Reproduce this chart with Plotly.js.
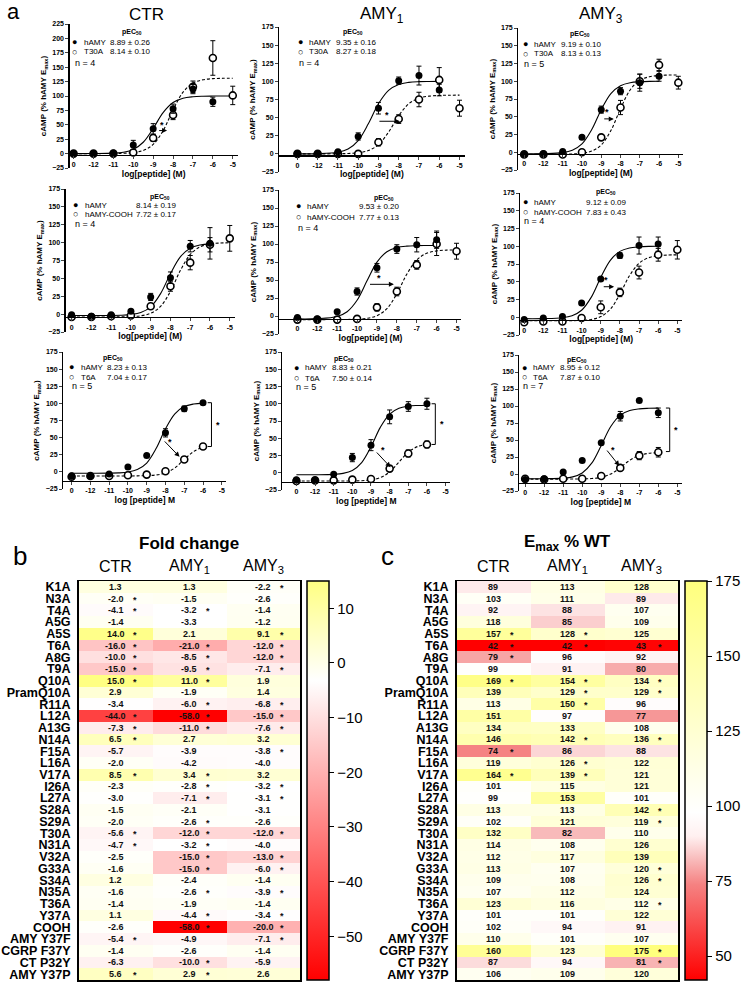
<!DOCTYPE html>
<html><head><meta charset="utf-8">
<script src="https://cdn.plot.ly/plotly-3.0.1.min.js"></script>
<style>html,body{margin:0;padding:0;background:#fff}</style>
</head><body><div id="chart" style="width:742px;height:982px"></div>
<script>
// ---------- Dose-response data (panel a) ----------
const logConc = [-13,-12,-11,-10,-9,-8,-7,-6,-5];
const concTickText = ['0','-12','-11','-10','-9','-8','-7','-6','-5'];
const curveX = [-13,-12,-11,-10.5,-10,-9.5,-9,-8.5,-8,-7.5,-7,-6.5,-6,-5.5,-5];
const receptors = ['CTR','AMY<sub>1</sub>','AMY<sub>3</sub>'];
const wtName = 'hAMY';
const mutantNames = ['T30A','hAMY-COOH','T6A'];

// row 1: T30A
const ctrT30A_wt = [0,0,1,15,43,78,112,90,null];
const ctrT30A_wtErr = [0,0,0,8,9,8,8,8,null];
const ctrT30A_mut = [0,0,0,2,27,67,116,166,101];
const ctrT30A_mutErr = [0,0,0,0,6,8,10,30,16];
const ctrT30A_wtFit = [0,0.1,0.8,2.4,7.2,19.7,43.7,71.1,88.6,96.1,98.7,99.6,99.9,100,100];
const ctrT30A_mutFit = [0,0,0.2,0.6,1.8,5.5,15.9,39.8,76,106.6,122.2,128.1,130.1,130.7,130.9];

const amy1T30A_wt = [0,0,3,24,63,101,108,88,null];
const amy1T30A_wtErr = [0,0,0,5,8,5,13,8,null];
const amy1T30A_mut = [0,0,0,0,16,48,75,102,63];
const amy1T30A_mutErr = [0,0,0,0,5,6,10,17,11];
const amy1T30A_wtFit = [0,0.2,2.2,6.6,18.3,41.5,69.1,87.6,95.7,98.6,99.6,99.9,100,null,null];
const amy1T30A_mutFit = [0,0,0.2,0.5,1.5,4.5,12.7,30,52.7,69.2,76.9,79.6,80.6,80.9,81];

const amy3T30A_wt = [-3,-2,1,21,60,86,98,107,null];
const amy3T30A_wtErr = [0,0,0,2,5,5,12,7,null];
const amy3T30A_mut = [-3,-3,-3,0,21,63,100,123,98];
const amy3T30A_mutErr = [0,0,0,0,3,10,10,8,9];
const amy3T30A_wtFit = [-2,-1.8,-0.5,2.8,11.7,31.6,60,82.7,93.8,98,99.3,99.8,99.9,null,null];
const amy3T30A_mutFit = [-3,-3,-2.9,-2.5,-1.5,1.6,10.3,30.5,61.3,87.7,101.3,106.4,108.2,108.7,108.9];

// row 2: hAMY-COOH
const ctrCOOH_wt = [-1,-3,-1,4,24,51,95,99,null];
const ctrCOOH_wtErr = [0,0,0,2,5,8,8,22,null];
const ctrCOOH_mut = [-4,-4,-3,-2,11,39,72,97,106];
const ctrCOOH_mutErr = [0,0,0,0,4,7,10,10,18];
const ctrCOOH_wtFit = [-2,-2,-1.9,-1.6,-0.6,2.2,10.2,28.7,56.6,80.2,92.2,96.7,98.3,null,null];
const ctrCOOH_mutFit = [-4,-4,-4,-3.8,-3.5,-2.3,1.2,10.8,31.8,60.9,83.4,94.1,98.1,99.4,99.8];

const amy1COOH_wt = [-2,-4,6,34,67,93,99,106,null];
const amy1COOH_wtErr = [0,0,2,5,6,6,10,12,null];
const amy1COOH_mut = [-5,-5,-5,-4,12,34,71,100,90];
const amy1COOH_mutErr = [0,0,0,0,5,6,6,16,11];
const amy1COOH_wtFit = [-4,-3.7,-0.7,5.9,21.8,48.8,74.8,89.3,95.1,97.1,97.7,97.9,98,null,null];
const amy1COOH_mutFit = [-5,-5,-4.9,-4.8,-4.4,-3.2,0.4,10.2,30.9,58.1,77.9,87.1,90.4,91.5,91.8];

const amy3COOH_wt = [-3,-1,1,20,54,87,101,103,null];
const amy3COOH_wtErr = [0,0,0,2,2,4,12,10,null];
const amy3COOH_mut = [-7,-6,-6,-1,14,35,63,88,95];
const amy3COOH_mutErr = [0,0,0,0,9,6,9,9,13];
const amy3COOH_wtFit = [-2,-1.9,-0.7,2.1,9.9,28,56,80.2,92.8,97.6,99.2,99.8,99.9,null,null];
const amy3COOH_mutFit = [-5,-5,-4.9,-4.8,-4.4,-3.1,0.9,11.4,32.5,58.4,76,83.8,86.6,87.6,87.9];

// row 3: T6A
const ctrT6A_wt = [-6,-6,-3,7,24,57,92,101,null];
const ctrT6A_wtErr = [0,0,0,2,2,6,4,2,null];
const ctrT6A_mut = [-7,-6,-6,-5,-4,1,18,37,null];
const ctrT6A_mutErr = [0,0,0,0,0,2,4,4,null];
const ctrT6A_wtFit = [-2,-2,-1.8,-1.5,-0.3,3.3,12.9,34,62.8,84.8,95.3,99.1,100.4,null,null];
const ctrT6A_mutFit = [-6,-6,-6,-6,-6,-5.8,-5.5,-4.5,-1.5,5.8,18.1,29.7,36.1,null,null];

const amy1T6A_wt = [-10,-11,-2,22,40,81,96,100,null];
const amy1T6A_wtErr = [0,0,0,6,8,10,7,8,null];
const amy1T6A_mut = [-12,-11,-11,-10,-9,6,28,41,null];
const amy1T6A_mutErr = [0,0,0,0,0,2,5,5,null];
const amy1T6A_wtFit = [-3,-2.9,-2.3,-0.9,3.4,14.8,37.7,65.8,85,93.5,96.5,97.5,97.9,null,null];
const amy1T6A_mutFit = [-12,-12,-12,-12,-11.8,-11.5,-10.3,-7,1.2,15.5,29.8,38,41.3,null,null];

const amy3T6A_wt = [-8,-7,3,20,46,85,108,90,null];
const amy3T6A_wtErr = [0,0,0,0,0,7,2,7,null];
const amy3T6A_mut = [-7,-8,-7,-7,-3,9,27,32,null];
const amy3T6A_mutErr = [0,0,0,0,0,2,6,7,null];
const amy3T6A_wtFit = [-7,-6.9,-6.1,-4.2,1.5,15.9,42,69.8,86.5,93.4,95.8,96.6,96.9,null,null];
const amy3T6A_mutFit = [-7.5,-7.5,-7.5,-7.4,-7.2,-6.6,-4.8,0,9.3,20.2,27.3,30.4,31.5,null,null];

const wtPEC50 = ['8.89 ± 0.26','9.35 ± 0.16','9.19 ± 0.10','8.14 ± 0.19','9.53 ± 0.20','9.12 ± 0.09','8.23 ± 0.13','8.83 ± 0.21','8.95 ± 0.12'];
const mutPEC50 = ['8.14 ± 0.10','8.27 ± 0.18','8.13 ± 0.13','7.72 ± 0.17','7.77 ± 0.13','7.83 ± 0.43','7.04 ± 0.17','7.50 ± 0.14','7.87 ± 0.10'];
const nValues = [4,4,5,4,4,4,5,5,7];

// significance arrows [tailX, tailY, headX, headY, starX, starY] (null = none)
const shiftArrows = [
  [-8.85,40,-8.3,40,-8.55,49],
  [-9.1,45,-7.95,45,-8.6,54],
  [-9.0,47,-8.35,47,-8.7,56],
  null,
  [-9.5,44,-8.15,44,-8.9,53],
  [-9.0,43,-8.3,43,-8.7,52],
  [-8.2,49,-7.25,22,-7.75,44],
  [-8.85,34,-7.95,8,-8.35,33],
  [-8.85,40,-8.05,12,-8.4,36]
];
// Emax brackets [x, top, bottom] for T6A panels
const emaxBrackets = [null,null,null,null,null,null,[-5.55,101,37],[-5.55,100,41],[-5.4,97,33]];

// ---------- Heatmap data (panels b, c) ----------
const mutations = ['K1A','N3A','T4A','A5G','A5S','T6A','A8G','T9A','Q10A','PramQ10A','R11A','L12A','A13G','N14A','F15A','L16A','V17A','I26A','L27A','S28A','S29A','T30A','N31A','V32A','G33A','S34A','N35A','T36A','Y37A','COOH','AMY Y37F','CGRP F37Y','CT P32Y','AMY Y37P'];
const foldCTR  = [1.3,-2.0,-4.1,-1.4,14.0,-16.0,-10.0,-15.0,15.0,2.9,-3.4,-44.0,-7.3,6.5,-5.7,-2.0,8.5,-2.3,-3.0,-1.5,-2.0,-5.6,-4.7,-2.5,-1.6,1.2,-1.6,-1.4,1.1,-2.6,-5.4,-1.4,-6.3,5.6];
const foldAMY1 = [1.3,-1.5,-3.2,-3.3,2.1,-21.0,-8.5,-9.5,11.0,-1.9,-6.0,-58.0,-11.0,2.7,-3.9,-4.2,3.4,-2.8,-7.1,-2.1,-2.6,-12.0,-3.2,-15.0,-15.0,-2.4,-2.6,-1.9,-4.4,-58.0,-4.9,-2.6,-10.0,2.9];
const foldAMY3 = [-2.2,-2.6,-1.4,-1.2,9.1,-12.0,-12.0,-7.1,1.9,1.4,-6.8,-15.0,-7.6,3.2,-3.8,-4.0,3.2,-3.2,-3.1,-3.1,-2.6,-12.0,-4.0,-13.0,-6.0,-1.4,-3.9,-1.4,-3.4,-20.0,-7.1,-1.4,-5.9,2.6];
const foldCTRsig  = [0,1,1,0,1,1,1,1,1,0,0,1,1,1,0,0,1,0,0,0,0,1,1,0,0,0,0,0,0,0,1,0,0,1];
const foldAMY1sig = [0,0,1,0,0,1,1,1,1,0,1,1,1,0,0,0,1,1,1,0,1,1,1,1,1,0,1,0,1,1,0,0,1,1];
const foldAMY3sig = [1,0,0,0,1,1,1,1,0,0,1,1,1,0,1,0,0,1,1,0,0,1,0,1,1,0,1,0,1,1,1,0,0,0];
const emaxCTR  = [89,103,92,118,157,42,79,99,169,139,113,151,134,146,74,119,164,101,99,113,102,132,114,112,113,109,107,123,101,102,110,160,87,106];
const emaxAMY1 = [113,111,88,85,128,42,96,91,154,129,150,97,133,142,86,126,139,115,153,113,121,82,108,117,107,108,112,116,101,94,101,123,94,109];
const emaxAMY3 = [128,89,107,109,125,43,92,80,134,129,96,77,108,136,88,122,121,121,101,142,119,110,126,139,120,126,124,112,122,91,107,175,81,120];
const emaxCTRsig  = [0,0,0,0,1,1,1,0,1,0,0,0,0,0,1,0,1,0,0,0,0,0,0,0,0,0,0,0,0,0,0,0,0,0];
const emaxAMY1sig = [0,0,0,0,1,1,0,0,1,1,1,0,0,1,0,1,1,0,0,0,0,0,0,0,0,0,0,0,0,0,0,0,0,0];
const emaxAMY3sig = [0,0,0,0,0,1,0,0,1,1,0,0,0,1,0,0,0,0,0,1,1,0,0,0,1,1,0,1,0,0,0,1,1,0];
const foldTicks = [-50,-40,-30,-20,-10,0,10];
const emaxTicks = [50,75,100,125,150,175];

// ---------- Build ----------
const W = 742, H = 982;
const px = v => v / W;
const py = v => 1 - v / H;
const FONT = 'Arial, "Liberation Sans", sans-serif';

const panels = [
  [ctrT30A_wt,ctrT30A_wtErr,ctrT30A_mut,ctrT30A_mutErr,ctrT30A_wtFit,ctrT30A_mutFit],
  [amy1T30A_wt,amy1T30A_wtErr,amy1T30A_mut,amy1T30A_mutErr,amy1T30A_wtFit,amy1T30A_mutFit],
  [amy3T30A_wt,amy3T30A_wtErr,amy3T30A_mut,amy3T30A_mutErr,amy3T30A_wtFit,amy3T30A_mutFit],
  [ctrCOOH_wt,ctrCOOH_wtErr,ctrCOOH_mut,ctrCOOH_mutErr,ctrCOOH_wtFit,ctrCOOH_mutFit],
  [amy1COOH_wt,amy1COOH_wtErr,amy1COOH_mut,amy1COOH_mutErr,amy1COOH_wtFit,amy1COOH_mutFit],
  [amy3COOH_wt,amy3COOH_wtErr,amy3COOH_mut,amy3COOH_mutErr,amy3COOH_wtFit,amy3COOH_mutFit],
  [ctrT6A_wt,ctrT6A_wtErr,ctrT6A_mut,ctrT6A_mutErr,ctrT6A_wtFit,ctrT6A_mutFit],
  [amy1T6A_wt,amy1T6A_wtErr,amy1T6A_mut,amy1T6A_mutErr,amy1T6A_wtFit,amy1T6A_mutFit],
  [amy3T6A_wt,amy3T6A_wtErr,amy3T6A_mut,amy3T6A_mutErr,amy3T6A_wtFit,amy3T6A_mutFit]
];

// layout geometry in pixels
const geom = [
  {x0:74,x5:234,L:-13.2,yt:24,yb:168,top:225,cross:-2},
  {x0:299,x5:462,L:-13.9,yt:27,yb:172,top:175,cross:-2},
  {x0:527,x5:682,L:-13.3,yt:28,yb:170,top:175,cross:-2},
  {x0:72,x5:231,L:-13.3,yt:189,yb:332,top:175,cross:-4},
  {x0:299,x5:459,L:-13.9,yt:190,yb:334,top:175,cross:-4},
  {x0:527,x5:681,L:-13.2,yt:193,yb:335,top:175,cross:-4},
  {x0:72,x5:223,L:-13.45,yt:352,yb:489,top:175,cross:-13},
  {x0:298,x5:448,L:-13.75,yt:352,yb:490,top:175,cross:-13},
  {x0:528,x5:681,L:-13.3,yt:355,yb:491,top:175,cross:-13}
];
const legendPos = [
  {pecX:133,pecY:32,r1:42,r2:52,n:63,m:75,name:82,nx:73},
  {pecX:355,pecY:32,r1:42,r2:52,n:63,m:302,name:309,nx:299},
  {pecX:583,pecY:34,r1:44,r2:54,n:64,m:528,name:535,nx:525},
  {pecX:161,pecY:197,r1:205,r2:214,n:224,m:76,name:83,nx:73},
  {pecX:386,pecY:198,r1:206,r2:217,n:228,m:300,name:307,nx:298},
  {pecX:609,pecY:192,r1:202,r2:212,n:221,m:528,name:535,nx:525},
  {pecX:114,pecY:358,r1:367,r2:377,n:386,m:72,name:79,nx:70},
  {pecX:346,pecY:359,r1:368,r2:378,n:387,m:298,name:305,nx:296},
  {pecX:580,pecY:360,r1:368,r2:377,n:386,m:527,name:534,nx:524}
];
const valueOffset = [27, 52, 27];   // px from name start to pEC50 value, per row

const traces = [];
const annotations = [];
const shapes = [];
const layout = {
  width: W, height: H, margin:{l:0,r:0,t:0,b:0},
  paper_bgcolor:'white', plot_bgcolor:'rgba(0,0,0,0)',
  font:{family:FONT, color:'black'}, showlegend:false
};
const ann = (o) => annotations.push(Object.assign({showarrow:false, xref:'paper', yref:'paper'}, o));

panels.forEach((p, i) => {
  const g = geom[i], lp = legendPos[i];
  const k = i === 0 ? '' : String(i + 1);
  const xa = 'x' + k, ya = 'y' + k;
  const unit = (g.x5 - g.x0) / 8;
  const left = g.x0 + (g.L + 13) * unit, right = g.x5 + 0.25 * unit;
  const yb = py(g.yb), yt = py(g.yt);
  const pos = yb + (g.cross + 25) / (g.top + 25) * (yt - yb);
  const row = Math.floor(i / 3);
  const yt_vals = []; for (let v = -25; v <= g.top; v += 25) yt_vals.push(v);
  layout['xaxis' + k] = {
    domain:[px(left), px(right)], range:[g.L, -4.75], anchor:'free', position:pos,
    showline:true, linecolor:'black', linewidth:1.2, ticks:'outside', ticklen:3, tickwidth:1,
    tickvals:logConc, ticktext:concTickText, tickfont:{size:7, family:FONT, weight:'bold'},
    showgrid:false, zeroline:false,
    title:{text: row < 2 ? '<b>log[peptide] (M)</b>' : '<b>log [peptide] M</b>', font:{size:8.5}, standoff:3}
  };
  layout['yaxis' + k] = {
    domain:[yb, yt], range:[-25, g.top], anchor:xa,
    showline:true, linecolor:'black', linewidth:1.2, ticks:'outside', ticklen:3, tickwidth:1,
    tickvals:yt_vals, tickfont:{size:7, family:FONT, weight:'bold'},
    showgrid:false, zeroline:false,
    title:{text:'<b>cAMP (% hAMY E<sub>max</sub>)</b>', font:{size:8}, standoff:4}
  };
  const [wt, wtErr, mut, mutErr, wtFit, mutFit] = p;
  traces.push({x:curveX, y:wtFit, mode:'lines', line:{color:'black', width:1.1, shape:'spline'}, xaxis:xa, yaxis:ya, hoverinfo:'skip'});
  traces.push({x:curveX, y:mutFit, mode:'lines', line:{color:'black', width:1.1, dash:'3px,2px', shape:'spline'}, xaxis:xa, yaxis:ya, hoverinfo:'skip'});
  traces.push({x:logConc, y:mut, mode:'markers', marker:{symbol:'circle', size:7, color:'white', line:{color:'black', width:1.6}},
    error_y:{type:'data', array:mutErr, visible:true, color:'black', thickness:1, width:2.5}, xaxis:xa, yaxis:ya});
  traces.push({x:logConc, y:wt, mode:'markers', marker:{symbol:'circle', size:7, color:'black'},
    error_y:{type:'data', array:wtErr, visible:true, color:'black', thickness:1, width:2.5}, xaxis:xa, yaxis:ya});

  // legend box text
  const vx = lp.name + valueOffset[row];
  ann({x:px(lp.pecX), y:py(lp.pecY), text:'<b>pEC<sub>50</sub></b>', font:{size:7}, xanchor:'center', yanchor:'middle'});
  ann({x:px(lp.m), y:py(lp.r1), text:'●', font:{size:9}, xanchor:'center', yanchor:'middle'});
  ann({x:px(lp.m), y:py(lp.r2), text:'○', font:{size:9}, xanchor:'center', yanchor:'middle'});
  ann({x:px(lp.name), y:py(lp.r1), text:wtName, font:{size:8}, xanchor:'left', yanchor:'middle'});
  ann({x:px(lp.name), y:py(lp.r2), text:mutantNames[row], font:{size:8}, xanchor:'left', yanchor:'middle'});
  ann({x:px(vx), y:py(lp.r1), text:wtPEC50[i], font:{size:8}, xanchor:'left', yanchor:'middle'});
  ann({x:px(vx), y:py(lp.r2), text:mutPEC50[i], font:{size:8}, xanchor:'left', yanchor:'middle'});
  ann({x:px(lp.nx), y:py(lp.n), text:'n = ' + nValues[i], font:{size:9}, xanchor:'left', yanchor:'middle'});

  const a = shiftArrows[i];
  if (a) {
    annotations.push({xref:xa, yref:ya, axref:xa, ayref:ya, x:a[2], y:a[3], ax:a[0], ay:a[1], text:' ', showarrow:true, arrowhead:2, arrowsize:1, arrowwidth:1, arrowcolor:'black'});
    annotations.push({xref:xa, yref:ya, x:a[4], y:a[5], text:'<b>*</b>', showarrow:false, font:{size:9}});
  }
  const b = emaxBrackets[i];
  if (b) {
    shapes.push({type:'path', xref:xa, yref:ya, path:`M ${b[0]-0.2},${b[1]} L ${b[0]},${b[1]} L ${b[0]},${b[2]} L ${b[0]-0.2},${b[2]}`, line:{color:'black', width:1}});
    annotations.push({xref:xa, yref:ya, x:b[0]+0.35, y:(b[1]+b[2])/2, text:'<b>*</b>', showarrow:false, font:{size:9}});
  }
});

// panel a titles
ann({x:px(14), y:py(12), text:'a', font:{size:22}, xanchor:'center', yanchor:'middle'});
[147, 384, 604].forEach((cx, j) => ann({x:px(cx), y:py(15), text:receptors[j], font:{size:17}, xanchor:'center', yanchor:'middle'}));

// ---------- heatmaps ----------
function addHeatmap(k, cols, sigs, xl, xr, cbX, zmin, zmax, scale, ticks, fmt, title, letter, letterX) {
  const xa = 'x' + k, ya = 'y' + k;
  const z = mutations.map((_, r) => cols.map(c => c[r]));
  traces.push({type:'heatmap', z:z, x:[0,1,2], y:mutations.map((_, r) => r), xaxis:xa, yaxis:ya,
    zmin:zmin, zmax:zmax, colorscale:scale, hoverinfo:'skip',
    colorbar:{x:px(cbX), xanchor:'left', y:py(581), yanchor:'top', len:399/H, lenmode:'fraction', thickness:22, thicknessmode:'pixels',
      xpad:0, ypad:0, outlinewidth:1.5, outlinecolor:'black', tickvals:ticks, ticks:'outside', ticklen:5, tickcolor:'black',
      tickfont:{size:15, family:FONT}}});
  layout['xaxis' + k] = {domain:[px(xl), px(xr)], range:[-0.5, 2.5], anchor:ya, showline:true, mirror:true, linecolor:'black', linewidth:1.5,
    showticklabels:false, ticks:'', showgrid:false, zeroline:false};
  layout['yaxis' + k] = {domain:[py(980), py(581)], range:[mutations.length - 0.5, -0.5], anchor:xa, showline:true, mirror:true, linecolor:'black', linewidth:1.5,
    tickvals:mutations.map((_, r) => r), ticktext:mutations.map(m => '<b>' + m + '</b>'), ticks:'', ticklabelstandoff:4,
    tickfont:{size:12.5, family:FONT}, showgrid:false, zeroline:false};
  cols.forEach((c, j) => {
    c.forEach((v, r) => {
      annotations.push({xref:xa, yref:ya, x:j, y:r, text:'<b>' + fmt(v) + '</b>', showarrow:false, font:{size:9, color:'#111'}});
      if (sigs[j][r]) annotations.push({xref:xa, yref:ya, x:j, y:r, xshift:19, yshift:-1, text:'<b>*</b>', showarrow:false, font:{size:9, color:'#111'}});
    });
  });
  const cw = (xr - xl) / 3;
  receptors.forEach((rc, j) => ann({x:px(xl + cw * (j + 0.5)), y:py(566), text:rc, font:{size:16}, xanchor:'center', yanchor:'middle'}));
  ann({x:px((xl + xr) / 2), y:py(543), text:title, font:{size:17}, xanchor:'center', yanchor:'middle'});
  ann({x:px(letterX), y:py(556), text:letter, font:{size:26}, xanchor:'center', yanchor:'middle'});
}
addHeatmap('10', [foldCTR, foldAMY1, foldAMY3], [foldCTRsig, foldAMY1sig, foldAMY3sig], 79, 302, 309, -58, 15,
  [[0,'rgb(255,0,0)'],[0.75,'rgb(255,255,255)'],[1,'rgb(255,255,130)']], foldTicks, v => v.toFixed(1), '<b>Fold change</b>', 'b', 20);
addHeatmap('11', [emaxCTR, emaxAMY1, emaxAMY3], [emaxCTRsig, emaxAMY1sig, emaxAMY3sig], 459, 682, 689, 42, 175,
  [[0,'rgb(255,0,0)'],[0.24,'rgb(245,130,130)'],[0.3,'rgb(248,185,185)'],[0.36,'rgb(255,240,240)'],[0.42,'rgb(255,255,255)'],[1,'rgb(255,255,125)']],
  emaxTicks, v => String(v), '<b>E<sub>max</sub> % WT</b>', 'c', 390);

layout.annotations = annotations;
layout.shapes = shapes;
Plotly.newPlot('chart', traces, layout, {staticPlot:true, displayModeBar:false});
</script></body></html>
